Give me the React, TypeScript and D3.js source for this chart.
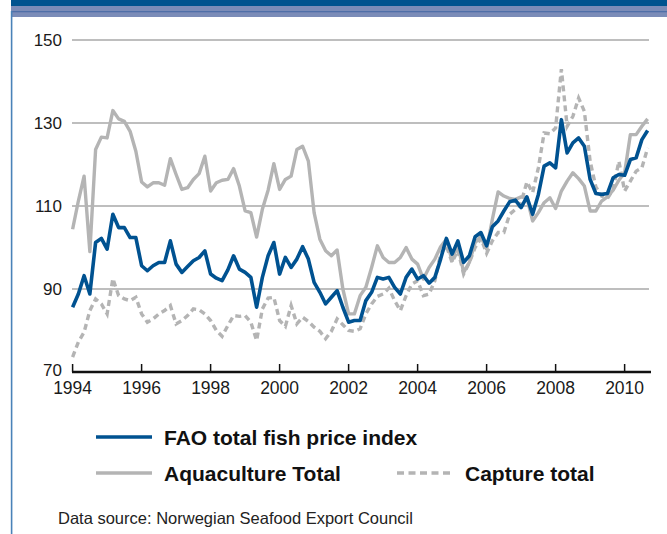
import React from "react";
import * as d3 from "d3";

const START_YEAR = 1994;
const STEP_MONTHS = 2;

const fao = [
  85.6, 88.8, 93.2, 88.8, 101.2, 102.2, 99.6, 108, 104.8, 104.8, 102.4, 102.4,
  95.6, 94.4, 95.6, 96.4, 96.4, 101.6, 96, 94, 95.4, 96.8, 97.6, 99.2,
  93.6, 92.6, 92, 94.6, 98, 94.8, 94, 92.8, 85.6, 92.8, 98, 101.2,
  93.6, 97.6, 95.2, 97.2, 100.2, 97.2, 91.6, 89.2, 86.4, 88, 89.6, 85.6,
  82, 82.4, 82.4, 87.2, 89.2, 92.8, 92.4, 92.8, 90.4, 88.8, 92.8, 94.8,
  92.4, 93.2, 91.4, 92.8, 97.2, 102.2, 98.4, 101.6, 96.4, 98, 102.6, 103.6,
  100.4, 105, 106.4, 108.8, 111, 111.4, 109.6, 112.2, 108, 112.8, 119.6, 120.4,
  119.2, 130.8, 122.8, 125.2, 126.4, 124.4, 116.4, 113, 112.8, 113, 116.8, 117.6,
  117.4, 121.2, 121.6, 126, 128.2,
];

const aquaculture = [
  104.4, 111.2, 117.2, 99, 123.6, 126.6, 126.4, 133, 131, 130.4, 128, 123.2,
  115.8, 114.6, 115.6, 115.6, 115, 121.4, 117.6, 114, 114.4, 116.4, 117.8, 122,
  113.6, 115.6, 116.2, 116.4, 119, 114.8, 108.8, 108.4, 102.5, 109.2, 113.8, 120.2,
  114, 116.4, 117.2, 123.6, 124.4, 120.8, 108.4, 102, 99.2, 98, 99.4, 90,
  84, 84, 88.4, 90.4, 95.2, 100.4, 97.6, 96.4, 96.4, 97.6, 100, 97.2,
  96, 92.4, 95.2, 97.2, 100.2, 102, 96.8, 100.8, 94, 96.4, 101.2, 102.6,
  99.6, 106.8, 113.4, 112.4, 111.8, 111.6, 112.2, 112, 106.4, 108.4, 110.8, 112,
  109.4, 113.6, 116, 118, 116.6, 114.8, 108.8, 108.8, 111.2, 112.2, 113.8, 116.2,
  118, 127.2, 127.2, 129.2, 131,
];

const capture = [
  73.6, 77.2, 79.6, 84.8, 87.6, 86.4, 84, 92.5, 88.4, 87.6, 87.2, 88,
  84, 82, 82.8, 84, 84.8, 86, 81.6, 82.4, 83.6, 85.2, 85, 84,
  82.4, 80, 78.6, 81.2, 83.6, 83.4, 83.6, 82, 77.6, 85.2, 87.8, 88,
  82.4, 81, 86, 81.6, 83.2, 82.2, 80.8, 79.8, 78, 79.8, 82.8, 81.4,
  80, 79.8, 80.4, 84, 86.4, 88.2, 88.8, 90.2, 87.2, 84.8, 88.4, 91.2,
  92, 88.4, 88.8, 92, 98.4, 100.4, 96.4, 99.4, 93.6, 96.4, 100, 102.2,
  98.6, 101.6, 103.6, 103.6, 108, 109.2, 110.8, 115.8, 113.2, 119.2, 127.6, 127.4,
  128.8, 143, 129.2, 131.6, 136, 132.8, 120.8, 114.6, 112.4, 111.8, 114, 120.8,
  113.6, 116, 118.4, 119.2, 124,
];

const yTicks = [70, 90, 110, 130, 150];
const xTicks = [1994, 1996, 1998, 2000, 2002, 2004, 2006, 2008, 2010];

const seriesNames = {
  fao: "FAO total fish price index",
  aqua: "Aquaculture Total",
  capture: "Capture total",
};
const sourceText = "Data source: Norwegian Seafood Export Council";

const BLUE = "#005291";
const GREY = "#b4b4b4";
const FONT = "'Liberation Sans', Arial, sans-serif";

export default function App() {
  const W = 667;
  const H = 534;
  const x = d3.scaleLinear().domain([1994, 2010.75]).range([72.6, 650.5]);
  const y = d3.scaleLinear().domain([70, 150]).range([372, 40]);

  const toPts = (arr: number[]) =>
    arr.map((v, i) => ({ t: START_YEAR + (i * STEP_MONTHS) / 12, v }));
  const line = d3
    .line<{ t: number; v: number }>()
    .x((d) => x(d.t))
    .y((d) => y(d.v))
    .curve(d3.curveLinear);

  return (
    <svg
      width={W}
      height={H}
      style={{ position: "absolute", left: 0, top: 0, background: "#fff" }}
      fontFamily={FONT}
    >
      {/* header bands */}
      <rect x={11} y={0} width={W - 11} height={6} fill="#00538f" />
      <rect x={11} y={6} width={W - 11} height={11} fill="#7b8cb8" />
      <rect x={11} y={11} width={W - 11} height={1.3} fill="#4f6fa8" />
      <rect x={10.8} y={11} width={1.6} height={H - 11} fill="#4a82b8" />

      {/* gridlines */}
      {yTicks
        .filter((t) => t !== 70)
        .map((t) => (
          <line
            key={t}
            x1={72}
            x2={649}
            y1={y(t)}
            y2={y(t)}
            stroke="#a8a8a8"
            strokeWidth={1.4}
          />
        ))}
      {yTicks.map((t) => (
        <text
          key={"yl" + t}
          x={62}
          y={y(t) - (t === 70 ? 2 : 0)}
          dy="0.36em"
          textAnchor="end"
          fontSize={17}
          fill="#1a1a1a"
        >
          {t}
        </text>
      ))}

      {/* series */}
      <path
        d={line(toPts(aquaculture)) || ""}
        fill="none"
        stroke={GREY}
        strokeWidth={3.4}
        strokeLinejoin="round"
      />
      <path
        d={line(toPts(capture)) || ""}
        fill="none"
        stroke={GREY}
        strokeWidth={3.4}
        strokeDasharray="6,4"
      />
      <path
        d={line(toPts(fao)) || ""}
        fill="none"
        stroke={BLUE}
        strokeWidth={3.6}
        strokeLinejoin="round"
      />

      {/* x axis */}
      <line x1={72} x2={651} y1={372} y2={372} stroke="#111" strokeWidth={2.4} />
      {xTicks.map((t) => (
        <g key={"xt" + t}>
          <line x1={x(t)} x2={x(t)} y1={372} y2={364} stroke="#111" strokeWidth={1.5} />
          <text
            x={x(t)}
            y={388}
            dy="0.35em"
            textAnchor="middle"
            fontSize={17.5}
            fill="#1a1a1a"
          >
            {t}
          </text>
        </g>
      ))}

      {/* legend */}
      <line x1={96} x2={152} y1={437} y2={437} stroke={BLUE} strokeWidth={3.6} />
      <text x={164} y={437} dy="0.36em" fontSize={21} fontWeight="bold" fill="#111">
        {seriesNames.fao}
      </text>
      <line x1={96} x2={152} y1={473} y2={473} stroke={GREY} strokeWidth={3.6} />
      <text x={164} y={473} dy="0.36em" fontSize={21} fontWeight="bold" fill="#111">
        {seriesNames.aqua}
      </text>
      <line
        x1={397}
        x2={453}
        y1={473}
        y2={473}
        stroke={GREY}
        strokeWidth={3.6}
        strokeDasharray="7,4.5"
      />
      <text x={465} y={473} dy="0.36em" fontSize={21} fontWeight="bold" fill="#111">
        {seriesNames.capture}
      </text>

      <text x={58} y={518} dy="0.36em" fontSize={16.5} fill="#222">
        {sourceText}
      </text>
    </svg>
  );
}
